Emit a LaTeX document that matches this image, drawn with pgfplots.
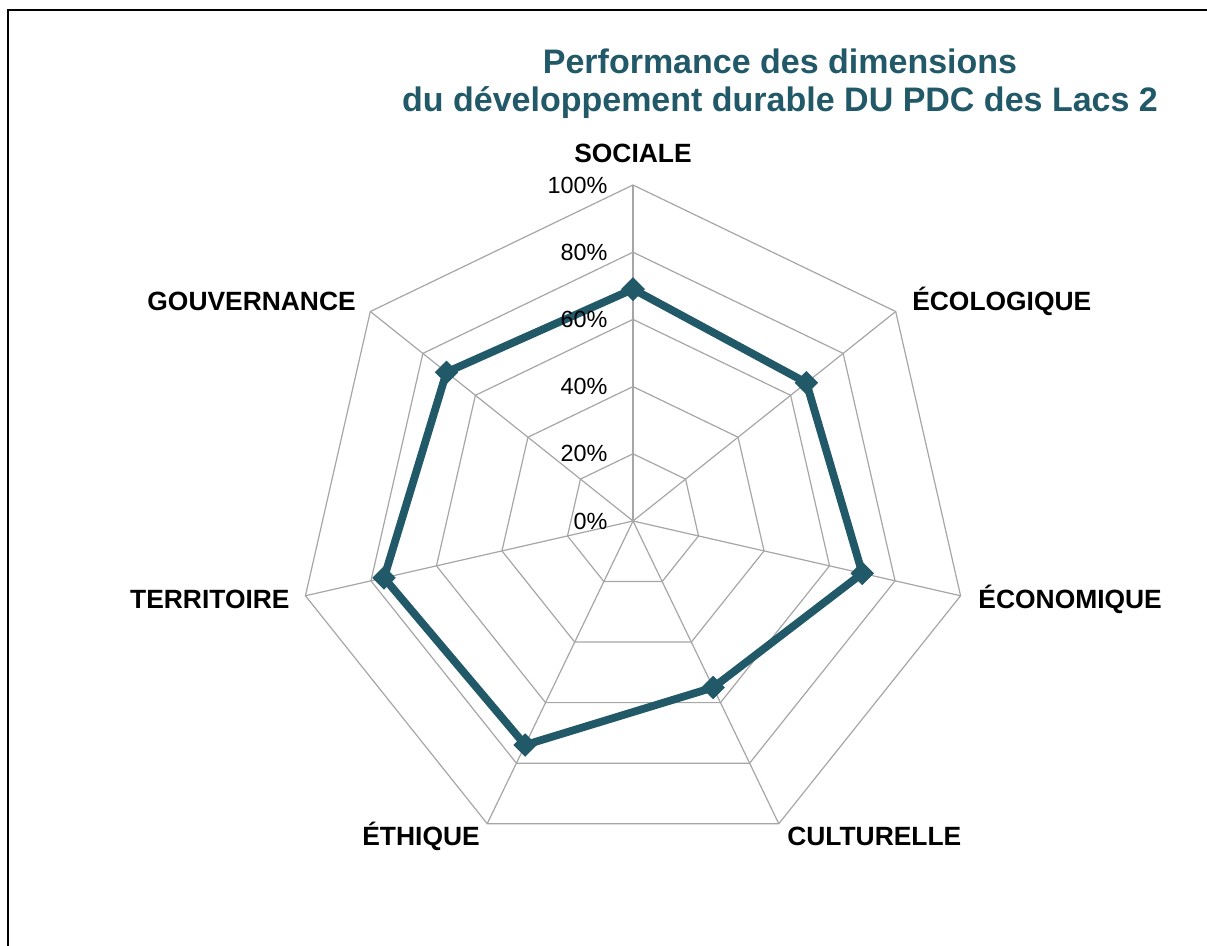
\documentclass[border=0pt]{standalone}
\usepackage{fontspec}
\setmainfont{Liberation Sans}
\usepackage{pgfplots}
\pgfplotsset{compat=1.18}
\definecolor{serie}{HTML}{215968}
\definecolor{grille}{RGB}{166,166,166}
\begin{document}
\begin{tikzpicture}
\begin{axis}[x=1.68pt, y=1.68pt,
  xmin=-188.39, xmax=170.83, ymin=-126.19, ymax=155.06,
  hide axis, clip=false]
% grid heptagons (20% .. 100%)
\addplot[grille, line width=0.6pt, data cs=polar] coordinates {(90,20) (38.5714,20) (-12.8571,20) (-64.2857,20) (-115.7143,20) (-167.1429,20) (141.4286,20) (90,20)};
\addplot[grille, line width=0.6pt, data cs=polar] coordinates {(90,40) (38.5714,40) (-12.8571,40) (-64.2857,40) (-115.7143,40) (-167.1429,40) (141.4286,40) (90,40)};
\addplot[grille, line width=0.6pt, data cs=polar] coordinates {(90,60) (38.5714,60) (-12.8571,60) (-64.2857,60) (-115.7143,60) (-167.1429,60) (141.4286,60) (90,60)};
\addplot[grille, line width=0.6pt, data cs=polar] coordinates {(90,80) (38.5714,80) (-12.8571,80) (-64.2857,80) (-115.7143,80) (-167.1429,80) (141.4286,80) (90,80)};
\addplot[grille, line width=0.6pt, data cs=polar] coordinates {(90,100) (38.5714,100) (-12.8571,100) (-64.2857,100) (-115.7143,100) (-167.1429,100) (141.4286,100) (90,100)};
% spokes
\addplot[grille, line width=0.6pt, data cs=polar] coordinates {(90,0) (90,100)};
\addplot[grille, line width=0.6pt, data cs=polar] coordinates {(38.5714,0) (38.5714,100)};
\addplot[grille, line width=0.6pt, data cs=polar] coordinates {(-12.8571,0) (-12.8571,100)};
\addplot[grille, line width=0.6pt, data cs=polar] coordinates {(-64.2857,0) (-64.2857,100)};
\addplot[grille, line width=0.6pt, data cs=polar] coordinates {(-115.7143,0) (-115.7143,100)};
\addplot[grille, line width=0.6pt, data cs=polar] coordinates {(-167.1429,0) (-167.1429,100)};
\addplot[grille, line width=0.6pt, data cs=polar] coordinates {(141.4286,0) (141.4286,100)};
% data series
\addplot[serie, line width=3.9pt, line join=miter, data cs=polar,
  mark=square*, mark size=3.9pt,
  mark options={rotate=45, line width=0.5pt, fill=serie, draw=serie}]
  coordinates {(90,69) (38.5714,66) (-12.8571,70) (-64.2857,55) (-115.7143,74) (-167.1429,76) (141.4286,71) (90,69)};
% radial tick labels
\foreach \v in {0,20,40,60,80,100}{
  \edef\tmp{\noexpand\node[anchor=east, font=\noexpand\fontsize{11.7}{13}\noexpand\selectfont, inner sep=0pt] at (axis cs:-7.5,\v) {\v\noexpand\%};}
  \tmp
}
% category labels
\begin{scope}[every node/.style={font=\fontsize{13.2}{15}\selectfont\bfseries, inner sep=0pt}]
\node[anchor=center] at (axis cs:0,109.5) {SOCIALE};
\node[anchor=west] at (axis cs:83.0,65.5) {ÉCOLOGIQUE};
\node[anchor=west] at (axis cs:102.7,-23.2) {ÉCONOMIQUE};
\node[anchor=west] at (axis cs:45.8,-94.0) {CULTURELLE};
\node[anchor=east] at (axis cs:-45.5,-94.0) {ÉTHIQUE};
\node[anchor=east] at (axis cs:-102.1,-23.2) {TERRITOIRE};
\node[anchor=east] at (axis cs:-82.4,65.5) {GOUVERNANCE};
\end{scope}
% title
\node[align=center, text=serie, font=\fontsize{17}{19}\selectfont\bfseries, inner sep=0pt] at (axis cs:43.75,130.1) {Performance des dimensions\\du développement durable DU PDC des Lacs 2};
% frame
\draw[black, line width=1.25pt] (axis cs:-186,-140) -- (axis cs:-186,152.1) -- (axis cs:185,152.1);
\coordinate (BL) at (axis cs:-188.39,-126.19);
\coordinate (TR) at (axis cs:170.83,155.06);
\end{axis}
\pgfresetboundingbox
\path[use as bounding box] (BL) rectangle (TR);
\end{tikzpicture}
\end{document}
